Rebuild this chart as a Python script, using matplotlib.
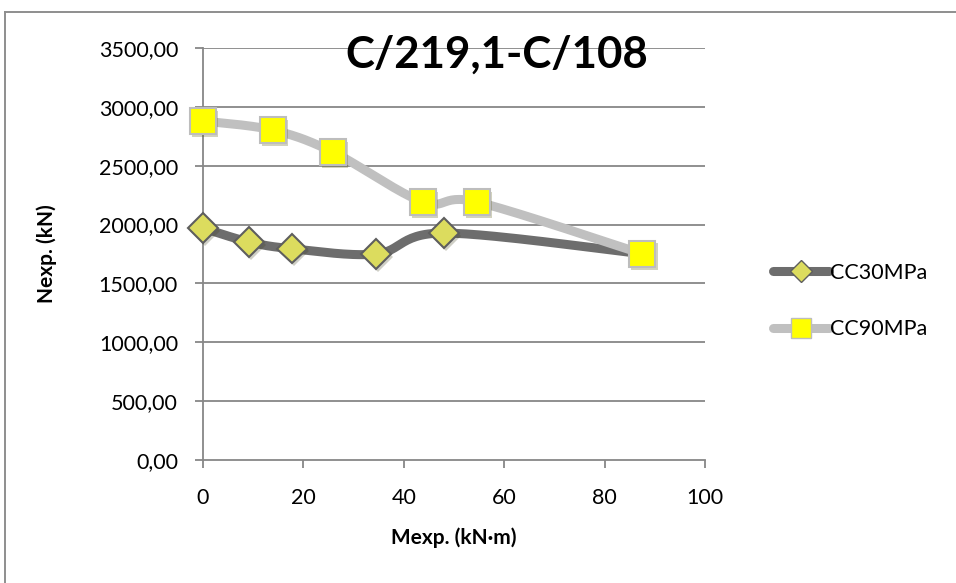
import numpy as np
import matplotlib
matplotlib.use("Agg")
import matplotlib.pyplot as plt
from matplotlib.lines import Line2D
import matplotlib.patheffects as pe

plt.rcParams['font.family'] = ['Lato', 'DejaVu Sans']

# data
m_cc30 = [0, 9.2, 17.7, 34.5, 48.0, 87.5]
n_cc30 = [1970, 1852, 1795, 1750, 1928, 1752]
m_cc90 = [0, 13.9, 25.9, 43.8, 54.6, 87.5]
n_cc90 = [2880, 2803, 2616, 2192, 2192, 1752]

y_ticks = [0, 500, 1000, 1500, 2000, 2500, 3000, 3500]
x_ticks = [0, 20, 40, 60, 80, 100]
title = "C/219,1-C/108"


def excel_smooth(xs, ys, ax, n=30):
    # bezier smoothing like excel, done in pixel space of the axes
    pts = ax.transData.transform(np.column_stack([xs, ys]))
    out = [pts[0]]
    for i in range(len(pts) - 1):
        p0 = pts[i - 1] if i > 0 else pts[i]
        p1 = pts[i]
        p2 = pts[i + 1]
        p3 = pts[i + 2] if i + 2 < len(pts) else pts[i + 1]
        c1 = p1 + (p2 - p0) / 6
        c2 = p2 - (p3 - p1) / 6
        t = np.linspace(0, 1, n)[1:, None]
        seg = ((1 - t) ** 3) * p1 + 3 * ((1 - t) ** 2) * t * c1 + 3 * (1 - t) * t ** 2 * c2 + t ** 3 * p2
        out.extend(seg)
    out = np.array(out)
    d = ax.transData.inverted().transform(out)
    return d[:, 0], d[:, 1]


fig = plt.figure(figsize=(9.56, 5.83), dpi=100)
ax = fig.add_axes([203 / 956, 123 / 583, 502 / 956, 412 / 583])
ax.set_xlim(0, 100)
ax.set_ylim(0, 3500)

# outer chart border (only left/top visible)
fig.add_artist(Line2D([5 / 956, 5 / 956], [0, 1 - 12 / 583], color='#8e8e8e', lw=1.4))
fig.add_artist(Line2D([5 / 956, 1], [1 - 12 / 583, 1 - 12 / 583], color='#8e8e8e', lw=1.4))

grid_c = '#878787'
for yv in y_ticks[1:]:
    ax.axhline(yv, color=grid_c, lw=1.3, zorder=1)

for s in ['top', 'right']:
    ax.spines[s].set_visible(False)
for s in ['left', 'bottom']:
    ax.spines[s].set_color(grid_c)
    ax.spines[s].set_linewidth(1.3)

ax.set_xticks(x_ticks)
ax.set_yticks(y_ticks)
ax.set_yticklabels([f"{v},00" for v in y_ticks])
ax.tick_params(axis='both', direction='out', length=6, width=1.3, color=grid_c,
               labelsize=15.5, pad=12)
ax.tick_params(axis='x', pad=14)

fig.canvas.draw()

x1, y1 = excel_smooth(m_cc30, n_cc30, ax)
x2, y2 = excel_smooth(m_cc90, n_cc90, ax)

shadow = [pe.SimplePatchShadow(offset=(1.5, -2), alpha=0.25), pe.Normal()]

ax.plot(x1, y1, color='#6d6d6d', lw=6.5, solid_capstyle='round', zorder=3, clip_on=False)
ax.plot(m_cc30[:-1], n_cc30[:-1], ls='none', marker='D', ms=15, mfc='#dcdc5e', mec='#5e5e5e',
        mew=1.5, zorder=4, clip_on=False, path_effects=shadow)
ax.plot(x2, y2, color='#c0c0c0', lw=6.5, solid_capstyle='round', zorder=5, clip_on=False)
ax.plot(m_cc90, n_cc90, ls='none', marker='s', ms=19, mfc='#ffff00', mec='#bdbdbd',
        mew=1.5, zorder=6, clip_on=False, path_effects=shadow)
# last CC30 marker sits right under the CC90 square
ax.plot(m_cc30[-1:], n_cc30[-1:], ls='none', marker='D', ms=12, mfc='#dcdc5e', mec='#5e5e5e',
        mew=1.5, zorder=4.5, clip_on=False)

ax.set_xlabel("Mexp. (kN·m)", fontsize=15, fontweight='bold', labelpad=14)
ax.set_ylabel("Nexp. (kN)", fontsize=15, fontweight='bold', labelpad=30)
ax.text(0.585, 0.983, title, transform=ax.transAxes, ha='center', va='center',
        fontsize=31.5, fontweight='bold')

h1 = Line2D([], [], color='#6d6d6d', lw=6.5, marker='D', ms=11, mfc='#dcdc5e', mec='#5e5e5e',
            solid_capstyle='round')
h2 = Line2D([], [], color='#c0c0c0', lw=6.5, marker='s', ms=15, mfc='#ffff00', mec='#bdbdbd',
            solid_capstyle='round')
fig.legend([h1, h2], ["CC30MPa", "CC90MPa"], loc='center left',
           bbox_to_anchor=(762 / 956, 1 - 301 / 583), frameon=False, fontsize=15.5,
           handlelength=2.6, handletextpad=0.05, labelspacing=1.7, borderpad=0)

fig.savefig("out.png", dpi=100)
